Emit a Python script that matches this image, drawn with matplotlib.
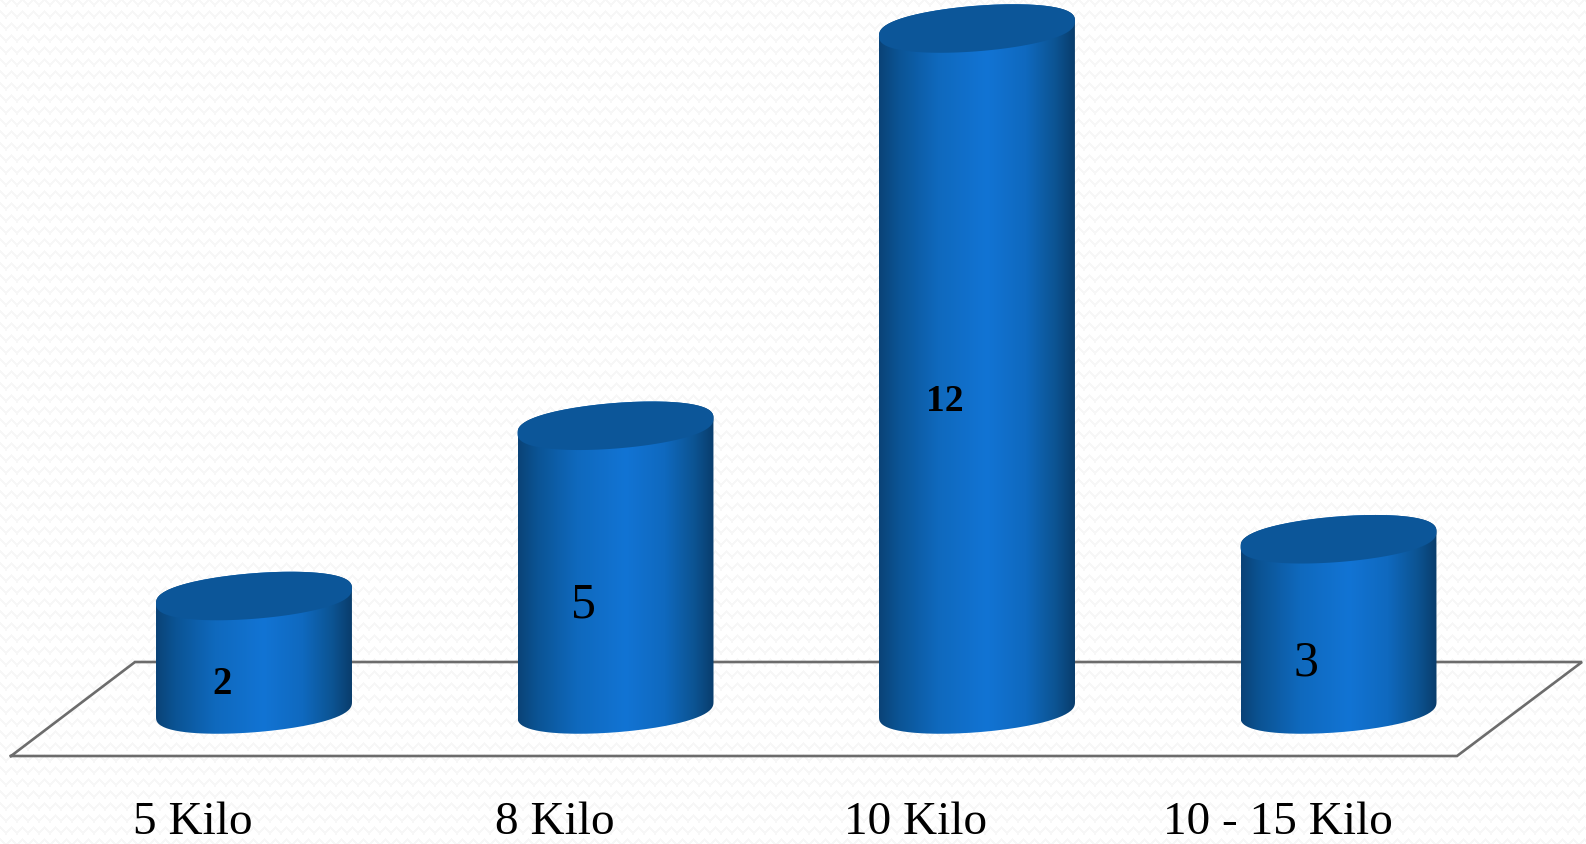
import numpy as np
import matplotlib
matplotlib.use("Agg")
import matplotlib.pyplot as plt
from matplotlib.path import Path
from matplotlib.patches import PathPatch
from matplotlib.colors import LinearSegmentedColormap

categories = ["5 Kilo", "8 Kilo", "10 Kilo", "10 - 15 Kilo"]
values = [2, 5, 12, 3]
label_sizes = [28, 36, 27, 36]   # old-style figures: 2 and 12 sit at x-height
label_drop = [0.0, 0.09, 0.0, 0.11]  # 5 and 3 descend below the baseline

W, H = 1586, 845
fig = plt.figure(figsize=(W / 100, H / 100), dpi=100)
ax = fig.add_axes([0, 0, 1, 1])

# scales: category i centre at px 254 + 361.5 i, value v at py 710.5 - 56.75 v
X0, DX, Y0, DY = 254, 361.5, 710.5, 56.75
ax.set_xlim((0 - X0) / DX, (W - X0) / DX)
ax.set_ylim((Y0 - H) / DY, (Y0 - 0) / DY)
ax.axis("off")
extent = (*ax.get_xlim(), *ax.get_ylim())

# faint wavy background texture
yy, xx = np.mgrid[0:H, 0:W]
wave = np.abs(((yy + 2.0 * np.abs((xx % 11) / 5.5 - 1) * 3) % 12) - 6) < 1.6
bg = np.where(wave, 0.966, 1.0)
ax.imshow(bg, cmap="gray", vmin=0, vmax=1, extent=extent, aspect="auto",
          origin="upper", zorder=0, interpolation="nearest")

# floor
floor_x = np.array([11, 135, 1582, 1457, 11], float)
floor_y = np.array([757, 663, 663, 757, 757], float)
ax.plot((floor_x - X0) / DX, (Y0 - floor_y) / DY, color="#6c6c6c", lw=1.9,
        solid_joinstyle="miter", zorder=1)

# cylinder geometry, in data units
hw = 98 / DX
b = 22.8 / DY
k = 7.5 / DY
body_cmap = LinearSegmentedColormap.from_list("cyl", [
    (0.00, "#0a4377"), (0.10, "#0b5495"), (0.30, "#0f69bd"), (0.55, "#1274d4"),
    (0.75, "#0f69bf"), (0.90, "#0c5493"), (1.00, "#093d6c")])
grad = np.linspace(0, 1, 256)[None, :]

def rim(cx, cy, t):
    s = np.sin(t)
    return np.column_stack([cx + hw * np.cos(t),
                            cy + k * np.cos(t) + b * np.sign(s) * np.abs(s) ** 0.8])

for i, v in enumerate(values):
    low = rim(i, 0, np.linspace(np.pi, 2 * np.pi, 80))
    up = rim(i, v, np.linspace(0, np.pi, 80))
    pts = np.vstack([low, up, low[:1]])
    clip = PathPatch(Path(pts), transform=ax.transData, fc="none", ec="none")
    ax.add_patch(clip)
    im = ax.imshow(grad, cmap=body_cmap, vmin=0, vmax=1, aspect="auto",
                   extent=(i - hw, i + hw, -1, v + 1), zorder=2)
    im.set_clip_path(clip)
    cap = rim(i, v, np.linspace(0, 2 * np.pi, 160))
    ax.fill(cap[:, 0], cap[:, 1], color="#0c5699", lw=0, zorder=3)
    ax.text(i - 32 / DX, v / 2 - 0.55 - label_drop[i], str(v), ha="center", va="center",
            family="Liberation Serif", fontsize=label_sizes[i], color="black",
            fontweight="bold" if label_sizes[i] < 30 else "normal", zorder=4)

ax.set_xlim(extent[0], extent[1])
ax.set_ylim(extent[2], extent[3])

for i, c in enumerate(categories):
    ax.text(i - 61 / DX, (Y0 - 834) / DY, c, ha="center", va="baseline",
            family="Liberation Serif", fontsize=34, color="black", zorder=4)

fig.savefig("out.png", dpi=100)
